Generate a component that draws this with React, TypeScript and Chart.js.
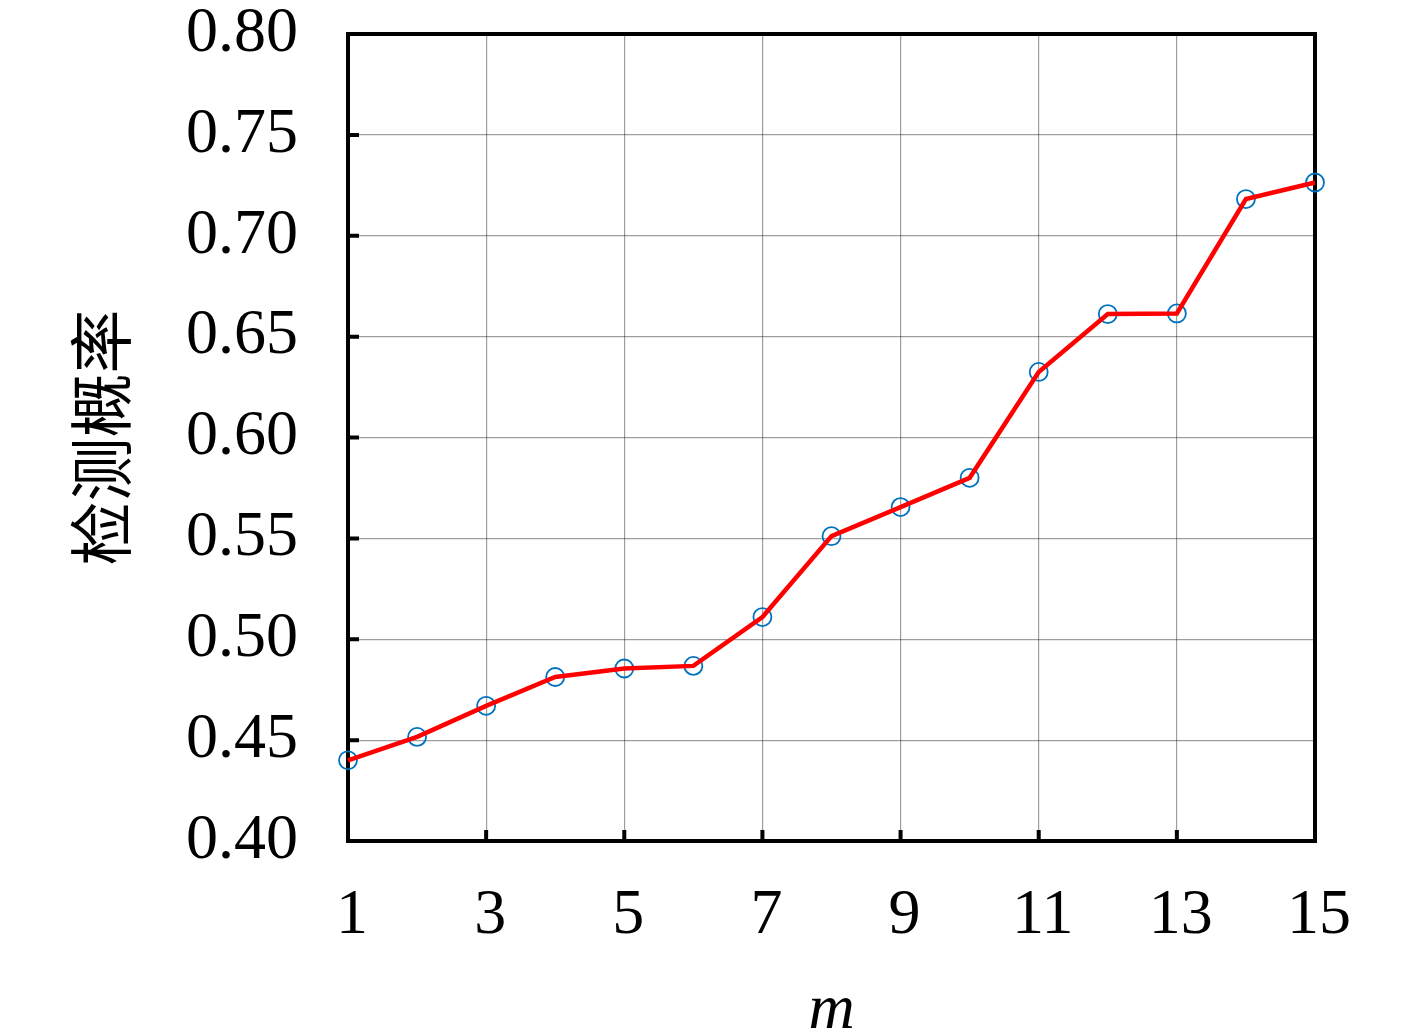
import React, { useEffect, useRef } from "react";
import { Chart, registerables } from "chart.js";

Chart.register(...registerables);

const mValues = [1, 2, 3, 4, 5, 6, 7, 8, 9, 10, 11, 12, 13, 14, 15];
const detectionProb = [
  0.44, 0.4516, 0.467, 0.4813, 0.4855, 0.4868, 0.511, 0.5511, 0.5655, 0.58,
  0.6325, 0.6612, 0.6615, 0.7182, 0.7264,
];
const xTickValues = [1, 3, 5, 7, 9, 11, 13, 15];
const yTickValues = [0.4, 0.45, 0.5, 0.55, 0.6, 0.65, 0.7, 0.75, 0.8];
const xTitle = "m";
const yTitle = "检测概率";

const SERIF = "'Liberation Serif', 'DejaVu Serif', serif";

const framePlugin = {
  id: "frame",
  beforeDatasetsDraw(chart: any) {
    const { ctx, chartArea, scales } = chart;
    const { left, right, top, bottom } = chartArea;
    const x = scales.x;
    const y = scales.y;
    ctx.save();
    ctx.strokeStyle = "#000";
    ctx.lineWidth = 4;
    ctx.lineCap = "square";
    ctx.lineJoin = "miter";
    ctx.strokeRect(left, top, right - left, bottom - top);
    ctx.beginPath();
    xTickValues.forEach((v) => {
      const px = x.getPixelForValue(v);
      ctx.moveTo(px, bottom);
      ctx.lineTo(px, bottom - 11);
    });
    yTickValues.forEach((v) => {
      const py = y.getPixelForValue(v);
      ctx.moveTo(left, py);
      ctx.lineTo(left + 11, py);
    });
    ctx.lineCap = "butt";
    ctx.stroke();
    ctx.restore();
  },
};

export default function App() {
  const canvasRef = useRef<HTMLCanvasElement | null>(null);

  useEffect(() => {
    document.body.style.margin = "0";
    const canvas = canvasRef.current;
    if (!canvas) return;
    const points = mValues.map((m, i) => ({ x: m, y: detectionProb[i] }));
    const chart = new Chart(canvas, {
      type: "line",
      data: {
        datasets: [
          {
            label: "line",
            data: points,
            borderColor: "#ff0000",
            borderWidth: 4.5,
            pointRadius: 0,
            pointHoverRadius: 0,
            fill: false,
            tension: 0,
            clip: false as any,
            order: 0,
          },
          {
            label: "markers",
            data: points,
            showLine: false,
            pointRadius: 9,
            pointBorderWidth: 1.8,
            pointBorderColor: "#0072BD",
            pointBackgroundColor: "rgba(0,0,0,0)",
            pointStyle: "circle",
            clip: false as any,
            order: 1,
          },
        ],
      },
      options: {
        responsive: false,
        animation: false,
        devicePixelRatio: 1,
        layout: { padding: { left: 0, right: 102, top: 34, bottom: 0 } },
        plugins: {
          legend: { display: false },
          tooltip: { enabled: false },
        },
        scales: {
          x: {
            type: "linear",
            min: 1,
            max: 15,
            afterFit: (scale: any) => {
              scale.height = 194;
              scale.paddingLeft = 0;
              scale.paddingRight = 0;
            },
            ticks: {
              stepSize: 2,
              color: "#000",
              padding: 43,
              labelOffset: 4,
              maxRotation: 0,
              font: { family: SERIF, size: 64, lineHeight: 1 },
            },
            grid: {
              color: "rgba(0,0,0,0.38)",
              lineWidth: 1.2,
              drawTicks: false,
            },
            border: { display: false },
            title: {
              display: true,
              text: xTitle,
              color: "#000",
              padding: { top: 0, bottom: 0 },
              font: { family: SERIF, size: 64, style: "italic", lineHeight: 0.75 },
            },
          },
          y: {
            type: "linear",
            min: 0.4,
            max: 0.8,
            afterFit: (scale: any) => {
              scale.width = 348;
              scale.paddingTop = 0;
              scale.paddingBottom = 0;
            },
            ticks: {
              stepSize: 0.05,
              color: "#000",
              padding: 50,
              callback: (v: any) => Number(v).toFixed(2),
              font: { family: SERIF, size: 64, lineHeight: 1 },
            },
            grid: {
              color: "rgba(0,0,0,0.38)",
              lineWidth: 1.2,
              drawTicks: false,
            },
            border: { display: false },
            title: {
              display: true,
              text: yTitle,
              color: "#000",
              padding: { top: 69, bottom: 0 },
              font: { family: "'Noto Sans CJK SC', sans-serif", size: 64, lineHeight: 1 },
            },
          },
        },
      },
      plugins: [framePlugin],
    });
    return () => chart.destroy();
  }, []);

  return (
    <div style={{ position: "absolute", left: 0, top: 0, width: 1417, height: 1035, background: "#fff" }}>
      <canvas ref={canvasRef} width={1417} height={1035} />
    </div>
  );
}
